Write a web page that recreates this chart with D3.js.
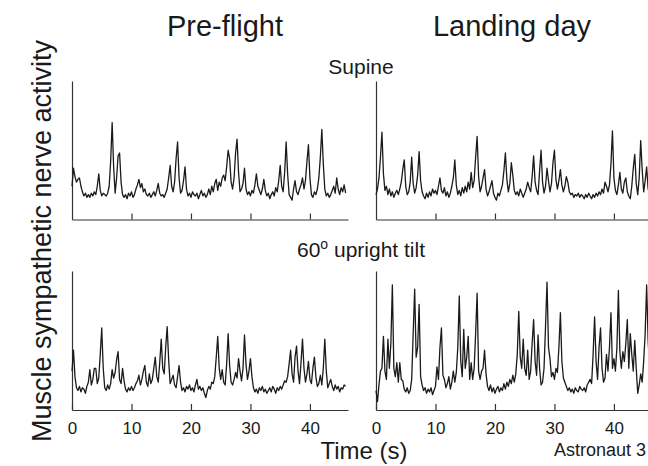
<!DOCTYPE html>
<html>
<head>
<meta charset="utf-8">
<script src="https://cdn.jsdelivr.net/npm/d3@7"></script>
<style>
  body { margin: 0; background: #fff; }
  text { font-family: "Liberation Sans", Arial, Helvetica, sans-serif; fill: #1a1a1a; }
</style>
</head>
<body>
<div id="chart"></div>
<script>
// sampling interval of the digitised neurograms (s)
var step = 0.25;

// MSNA traces, arbitrary units (0 = axis, 100 = top of the y axis), one value every 0.25 s
var preSupine = [
  24, 37, 31, 27,  29, 30, 24, 20,  17, 19, 16, 18,  16, 19, 17, 20,  18, 24, 33, 21,
  17, 19, 18, 17,  19, 24, 42, 70,  38, 19, 30, 46,  48, 27, 18, 16,  18, 15, 19, 17,
  20, 16, 18, 22,  25, 29, 23, 26,  20, 22, 18, 17,  19, 16, 18, 20,  17, 21, 26, 19,
  17, 18, 16, 19,  22, 30, 39, 24,  20, 27, 44, 56,  30, 19, 21, 28,  38, 22, 17, 19,
  16, 20, 18, 17,  19, 15, 18, 21,  17, 19, 16, 18,  22, 18, 24, 20,  26, 29, 21, 27,
  24, 30, 32, 28,  38, 50, 44, 27,  22, 30, 48, 58,  34, 20, 22, 26,  37, 22, 18, 20,
  17, 21, 19, 25,  33, 24, 21, 18,  22, 29, 21, 17,  19, 15, 18, 20,  17, 23, 20, 28,
  39, 24, 20, 34,  56, 33, 18, 16,  14, 22, 28, 20,  18, 22, 25, 30,  22, 28, 42, 54,
  30, 18, 16, 20,  18, 22, 30, 45,  65, 40, 22, 17,  19, 16, 18, 21,  24, 19, 30, 22,
  18, 23, 20, 25, 19
];
var landingSupine = [
  18, 22, 30, 45,  63, 33, 21, 24,  18, 22, 17, 20,  16, 19, 21, 18,  22, 27, 36, 43,
  24, 18, 20, 27,  45, 26, 19, 23,  32, 49, 28, 20,  17, 15, 19, 16,  20, 17, 22, 19,
  21, 18, 24, 30,  21, 19, 23, 17,  20, 16, 19, 24,  30, 43, 25, 18,  21, 17, 23, 19,
  24, 20, 27, 22,  34, 23, 28, 45,  60, 31, 20, 24,  30, 36, 22, 17,  20, 24, 28, 19,
  16, 14, 19, 17,  21, 25, 35, 48,  29, 20, 26, 41,  32, 21, 18, 20,  17, 22, 19, 16,
  19, 22, 27, 23,  20, 31, 46, 27,  21, 18, 35, 50,  27, 19, 24, 37,  28, 20, 26, 41,
  50, 29, 22, 28,  36, 25, 20, 24,  31, 27, 20, 18,  19, 16, 18, 17,  19, 16, 18, 17,
  15, 18, 16, 19,  17, 15, 18, 16,  19, 17, 20, 18,  22, 19, 27, 24,  20, 25, 40, 64,
  30, 21, 18, 25,  34, 22, 19, 27,  30, 20, 17, 15,  24, 37, 47, 26,  18, 30, 57, 36,
  20, 28, 38, 22, 19
];
var preTilt = [
  28, 43, 24, 16,  14, 17, 13, 16,  15, 12, 17, 20,  29, 18, 22, 30,  30, 19, 23, 40,
  59, 30, 16, 14,  18, 15, 19, 29,  23, 27, 36, 42,  22, 19, 30, 21,  15, 13, 16, 14,
  17, 14, 16, 19,  21, 25, 18, 22,  28, 32, 20, 17,  26, 19, 22, 30,  38, 24, 20, 34,
  51, 30, 26, 45,  60, 36, 19, 22,  25, 18, 16, 24,  32, 20, 14, 16,  13, 17, 15, 18,
  14, 16, 13, 18,  22, 15, 17, 14,  16, 12,  9, 14,  17, 15, 20, 19,  24, 38, 53, 30,
  22, 29, 20, 18,  33, 55, 32, 20,  18, 22, 27, 23,  37, 28, 21, 30,  54, 33, 22, 28,
  37, 24, 16, 13,  15, 12, 16, 14,  17, 13, 15, 12,  14, 16, 13, 17,  15, 12, 16, 14,
  17, 15, 18, 21,  20, 24, 33, 43,  26, 20, 38, 46,  28, 19, 34, 51,  30, 20, 26, 35,
  22, 19, 30, 38,  24, 17, 19, 25,  18, 30, 51, 28,  16, 19, 22, 17,  14, 18, 15, 17,
  13, 16, 15, 18, 17
];
var landingTilt = [
  14,  6, 18, 28,  30, 53, 28, 22,  51, 30, 48, 90,  30, 24, 34, 20,  34, 22, 21, 15,
  13, 16, 12, 14,  22, 55, 87, 38,  45, 76, 24, 18,  14, 16, 12, 15,  13, 16, 11, 14,
  17, 31, 22, 45,  59, 25, 22, 16,  19, 24, 15, 20,  28, 20, 27, 45,  82, 35, 24, 58,
  30, 38, 53, 22,  34, 22, 30, 55,  84, 28, 22, 28,  30, 43, 26, 17,  14, 18, 13, 16,
  12, 15, 17, 13,  16, 14, 19, 15,  20, 17, 22, 19,  25, 20, 26, 40,  71, 38, 30, 51,
  30, 25, 43, 22,  28, 48, 65, 35,  25, 54, 30, 18,  20, 30, 60, 92,  45, 37, 24, 27,
  22, 30, 27, 45,  70, 35, 23, 20,  17, 14, 16, 13,  15, 12, 16, 14,  13, 17, 15, 14,
  16, 13, 18, 20,  22, 19, 40, 67,  35, 22, 45, 59,  30, 20, 23, 40,  28, 45, 70, 30,
  37, 28, 45, 86,  42, 30, 42, 35,  48, 65, 30, 55,  40, 28, 50, 30,  12, 18, 26, 20,
  35, 55, 90, 50, 30
];

var columnTitles = ["Pre-flight", "Landing day"];
var timeTicks = [0, 10, 20, 30, 40];

// set the dimensions of the figure
var width = 648, height = 466;
var panelW = 276;
var colX = [72, 376];
var rowY = [[81, 219.5], [271, 410]];

var svg = d3.select("#chart")
  .append("svg")
    .attr("width", width)
    .attr("height", height);

var x = d3.scaleLinear()
  .domain([0, 46.4])
  .range([0, panelW]);

var traces = [[preSupine, landingSupine], [preTilt, landingTilt]];

traces.forEach(function(row, r) {
  var ph = rowY[r][1] - rowY[r][0];
  var y = d3.scaleLinear()
    .domain([0, 100])
    .range([ph, 0]);

  row.forEach(function(values, c) {
    var g = svg.append("g")
      .attr("transform", "translate(" + colX[c] + "," + rowY[r][0] + ")");

    // x axis: ticks pointing up into the panel, labels only on the lower row
    var xAxis = d3.axisBottom(x)
      .tickValues(r == 0 ? timeTicks.slice(1) : timeTicks)
      .tickSize(-6)
      .tickSizeOuter(0)
      .tickPadding(12);
    if (r == 0) xAxis.tickFormat("");
    var ax = g.append("g")
      .attr("transform", "translate(0," + ph + ")")
      .call(xAxis);
    ax.select(".domain").attr("stroke", "#333").attr("stroke-width", 1.2);
    ax.selectAll(".tick line").attr("stroke", "#333").attr("stroke-width", 1.2);
    ax.selectAll("text")
      .style("font-size", "17px")
      .style("font-family", '"Liberation Sans", Arial, sans-serif')
      .attr("fill", "#1a1a1a");

    // y axis: plain line
    g.append("g")
      .call(d3.axisLeft(y).tickValues([]).tickSizeOuter(0))
      .select(".domain").attr("stroke", "#333").attr("stroke-width", 1.2);

    // the neurogram
    g.append("path")
      .datum(values)
      .attr("fill", "none")
      .attr("stroke", "#1a1a1a")
      .attr("stroke-width", 1.3)
      .attr("stroke-linejoin", "round")
      .attr("d", d3.line()
        .x(function(d, i) { return x(i * step); })
        .y(function(d) { return y(d); }));
  });
});

// column titles
svg.selectAll("coltitles")
  .data(columnTitles)
  .enter()
  .append("text")
    .attr("x", function(d, i) { return i == 0 ? 225 : 512; })
    .attr("y", 36)
    .attr("text-anchor", "middle")
    .style("font-size", "29px")
    .text(function(d) { return d; });

// row titles
svg.append("text")
  .attr("x", 361)
  .attr("y", 74)
  .attr("text-anchor", "middle")
  .style("font-size", "21px")
  .text("Supine");

var tilt = svg.append("text")
  .attr("x", 361)
  .attr("y", 257)
  .attr("text-anchor", "middle")
  .style("font-size", "21px");
tilt.append("tspan").text("60");
tilt.append("tspan").attr("dy", -8).style("font-size", "14px").text("o");
tilt.append("tspan").attr("dy", 8).text(" upright tilt");

// axis labels
svg.append("text")
  .attr("x", 364)
  .attr("y", 459)
  .attr("text-anchor", "middle")
  .style("font-size", "24px")
  .text("Time (s)");

svg.append("text")
  .attr("transform", "translate(51,241) rotate(-90)")
  .attr("text-anchor", "middle")
  .style("font-size", "27px")
  .text("Muscle sympathetic nerve activity");

svg.append("text")
  .attr("x", 646)
  .attr("y", 456)
  .attr("text-anchor", "end")
  .style("font-size", "18px")
  .text("Astronaut 3");
</script>
</body>
</html>
